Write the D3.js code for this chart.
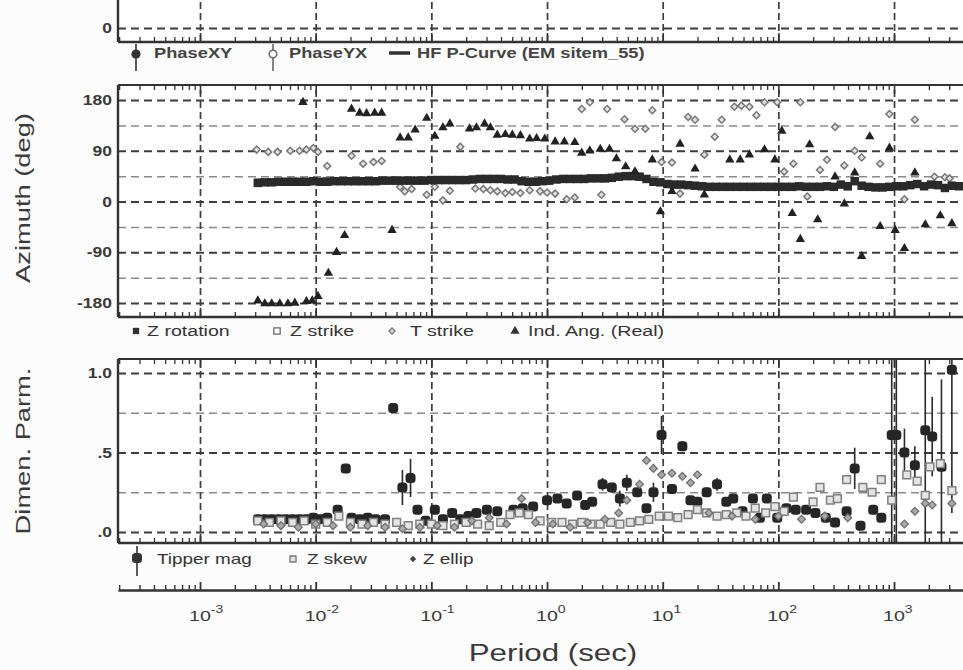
<!DOCTYPE html>
<html>
<head>
<meta charset="utf-8">
<script src="https://cdn.jsdelivr.net/npm/d3@7"></script>
<style>
  html, body { margin: 0; padding: 0; background: #fcfcfc; }
  svg { display: block; }
  text { font-family: "Liberation Sans", Arial, Helvetica, sans-serif; }
</style>
</head>
<body>
<svg id="chart" width="963" height="670"></svg>
<script>
// ---------------- data ----------------
// decades labelled on the period axis (log10 of seconds)
const decades = [-3, -2, -1, 0, 1, 2, 3];
const periodExpLabels = ["-3", "-2", "-1", "0", "1", "2", "3"];

const azTicks = [180, 90, 0, -90, -180];
const azTickLabels = ["180", "90", "0", "-90", "-180"];
const azGrid = [180, 135, 90, 45, 0, -45, -90, -135, -180];

const dimTicks = [1.0, 0.5, 0.0];
const dimTickLabels = ["1.0", ".5", ".0"];
const dimGrid = [1.0, 0.75, 0.5, 0.25, 0.0];

const phaseTicks = [0];
const phaseTickLabels = ["0"];

// Z rotation (deg) vs log10 period
const rotLogT = [
  -2.50,-2.44,-2.38,-2.32,-2.26,-2.20,-2.14,-2.08,-2.02,-1.96,
  -1.90,-1.84,-1.78,-1.72,-1.66,-1.60,-1.54,-1.48,-1.42,-1.36,
  -1.30,-1.24,-1.18,-1.12,-1.06,-1.00,-0.94,-0.88,-0.82,-0.76,
  -0.70,-0.64,-0.58,-0.52,-0.46,-0.40,-0.34,-0.28,-0.22,-0.16,
  -0.10,-0.04, 0.02, 0.08, 0.14, 0.20, 0.26, 0.32, 0.38, 0.44,
   0.50, 0.56, 0.62, 0.68, 0.74, 0.80, 0.86, 0.92, 0.98, 1.04,
   1.10, 1.16, 1.22, 1.28, 1.34, 1.40, 1.46, 1.52, 1.58, 1.64,
   1.70, 1.76, 1.82, 1.88, 1.94, 2.00, 2.06, 2.12, 2.18, 2.24,
   2.30, 2.36, 2.42, 2.48, 2.54, 2.60, 2.66, 2.72, 2.78, 2.84,
   2.90, 2.96, 3.02, 3.08, 3.14, 3.20, 3.26, 3.32, 3.38, 3.44,
   3.50, 3.56];
const rotAz = [
  33,34,34,35,35,35,35,35,36,35,
  35,36,36,36,36,36,36,36,37,37,
  37,37,37,37,37,38,38,38,38,38,
  38,39,40,40,40,40,39,39,36,35,
  35,36,37,39,40,40,40,40,41,41,
  41,42,44,45,45,44,40,35,34,31,
  30,30,29,28,27,26,26,26,26,26,
  26,26,26,26,26,26,26,26,27,26,
  26,26,27,26,30,27,36,28,26,25,
  25,26,27,27,29,31,27,30,29,24,
  28,27];

// Z strike (deg)
const zsLogT = [-2.50,-2.20,-1.90,-1.60,-1.30,-1.00,-0.70,-0.40,-0.10,0.20,0.50,0.80,1.10,1.40,1.70,2.00,2.30,2.60,2.90,3.20,3.50];
const zsAz   = [   34,   35,   36,   36,   37,   38,   38,   40,   35,  40,  41,  44,  30,  26,  26,  26,  26,  27,  25,  31,  28];

// T strike (deg)
const tsLogT = [
  -2.51,-2.41,-2.33,-2.22,-2.14,-2.08,-2.02,-1.98,-1.90,-1.69,
  -1.59,-1.50,-1.43,-1.27,-1.23,-1.17,-1.04,-0.97,-0.90,-0.84,
  -0.75,-0.62,-0.55,-0.49,-0.43,-0.36,-0.30,-0.23,-0.15,-0.06,
   0.00, 0.07, 0.17, 0.24, 0.30, 0.37, 0.47, 0.52, 0.67, 0.76,
   0.85, 0.91, 0.99, 1.08, 1.15, 1.22, 1.28, 1.36, 1.45, 1.51,
   1.62, 1.68, 1.75, 1.81, 1.88, 1.99, 2.05, 2.13, 2.19, 2.25,
   2.36, 2.42, 2.49, 2.57, 2.66, 2.72, 2.88, 2.96, 3.09, 3.18,
   3.35, 3.44, 3.48];
const tsAz = [
   92, 88, 88, 90, 90, 92, 95, 88, 63, 81,
   67, 70, 72, 26, 18, 22, 12, 26,  2, 19,
   97, 23, 22, 20, 18, 15, 17, 15, 20, 18,
   16, 14,  4,  7,164,176, 12,164,146,129,
  129,162, 70, 69, 14,150,145, 83,115,145,
  168,170,168,153,176,176, 53, 67,176,  9,
   56, 74,132, 64, 90, 78, 67,155,  4,145,
   44, 43, 41];

// Induction angle, real (deg)
const iaLogT = [
  -2.50,-2.44,-2.38,-2.31,-2.24,-2.18,-2.11,-2.08,-2.03,-1.98,
  -1.89,-1.82,-1.75,-1.69,-1.62,-1.56,-1.49,-1.43,-1.34,-1.27,
  -1.20,-1.14,-1.04,-0.97,-0.90,-0.84,-0.67,-0.61,-0.54,-0.49,
  -0.43,-0.36,-0.30,-0.23,-0.15,-0.09,-0.02, 0.07, 0.15, 0.24,
   0.30, 0.37, 0.46, 0.54, 0.60, 0.68, 0.76, 0.91, 0.98, 1.08,
   1.15, 1.28, 1.36, 1.58, 1.67, 1.75, 1.88, 1.97, 2.03, 2.12,
   2.19, 2.27, 2.34, 2.49, 2.57, 2.66, 2.72, 2.79, 2.88, 2.96,
   3.01, 3.09, 3.18, 3.27, 3.40, 3.50];
const iaAz = [
  -176,-181,-181,-181,-181,-180, 176,-177,-176,-168,
  -127, -90, -60, 164, 157, 156, 157, 157, -51, 113,
   113, 127, 148, 116, 131, 138, 129, 131, 138, 131,
   118, 119, 118, 117, 111, 112, 111, 106, 106, 105,
    86,  90,  93,  93,  76,  62,  53,  74, -18,  18,
   102,  58,  12,  74,  74,  83,  92,  74, 125, -21,
   -67, 101, -32,  44,  -4,  51, -97, 115, -44,  95,
   -51, -83,  51, -41, -25, -39];

// Tipper magnitude with error half-widths
const tipLogT = [
  -2.50,-2.44,-2.38,-2.32,-2.26,-2.20,-2.14,-2.08,-2.02,-1.96,
  -1.90,-1.81,-1.74,-1.69,-1.62,-1.55,-1.48,-1.40,-1.33,-1.25,
  -1.18,-1.12,-1.05,-0.97,-0.90,-0.82,-0.75,-0.68,-0.61,-0.52,
  -0.43,-0.29,-0.21,-0.12, 0.00, 0.09, 0.17, 0.26, 0.33, 0.39,
   0.48, 0.56, 0.63, 0.69, 0.78, 0.86, 0.92, 0.99, 1.08, 1.17,
   1.24, 1.30, 1.38, 1.47, 1.55, 1.61, 1.69, 1.78, 1.84, 1.90,
   1.99, 2.07, 2.15, 2.24, 2.32, 2.41, 2.49, 2.59, 2.66, 2.71,
   2.82, 2.89, 2.98, 3.02, 3.09, 3.18, 3.27, 3.33, 3.41, 3.50];
const tipMag = [
  .08,.08,.08,.08,.08,.08,.08,.08,.09,.08,
  .09,.14,.40,.09,.08,.09,.08,.08,.78,.28,
  .34,.14,.07,.14,.08,.12,.08,.10,.12,.14,
  .13,.14,.15,.16,.20,.21,.18,.23,.17,.19,
  .30,.28,.21,.31,.25,.15,.25,.61,.27,.54,
  .20,.19,.25,.30,.19,.21,.13,.21,.09,.21,
  .09,.15,.14,.14,.12,.09,.06,.13,.40,.04,
  .14,.09,.61,.61,.50,.42,.64,.60,.41,1.02];
const tipErr = [
  0,0,0,0,0,0,0,0,0,0,
  0,0,0,0,0,0,0,0,0,.11,
  .12,0,0,0,0,0,0,0,0,0,
  0,0,0,0,0,0,0,0,0,0,
  .04,.03,.05,.05,0,0,.06,.12,0,.03,
  0,0,.03,.04,0,0,0,0,0,0,
  0,0,0,0,0,0,0,0,.13,0,
  0,0,.9,.9,.15,.12,.9,.25,.55,.9];

// Z skew
const skewLogT = [
  -2.50,-2.40,-2.30,-2.20,-2.10,-2.00,-1.90,-1.80,-1.70,-1.60,
  -1.50,-1.40,-1.30,-1.20,-1.10,-1.00,-0.90,-0.80,-0.70,-0.60,
  -0.50,-0.40,-0.32,-0.24,-0.16,-0.06, 0.04, 0.13, 0.22, 0.30,
   0.38, 0.46, 0.55, 0.63, 0.72, 0.80, 0.88, 0.97, 1.05, 1.13,
   1.22, 1.30, 1.38, 1.47, 1.55, 1.64, 1.72, 1.80, 1.89, 1.97,
   2.05, 2.13, 2.30, 2.36, 2.45, 2.51, 2.59, 2.73, 2.81, 2.89,
   2.98, 3.11, 3.20, 3.27, 3.31, 3.40, 3.50];
const skewVal = [
  .07,.06,.07,.06,.07,.05,.06,.10,.06,.05,
  .06,.05,.06,.04,.05,.05,.04,.05,.06,.05,
  .04,.06,.11,.12,.11,.07,.06,.06,.05,.06,
  .05,.05,.06,.05,.06,.07,.08,.10,.10,.09,
  .11,.14,.12,.10,.11,.12,.10,.15,.12,.16,
  .13,.22,.19,.28,.20,.21,.33,.28,.25,.33,
  .20,.36,.32,.23,.41,.43,.26];

// Z ellipticity
const ellLogT = [
  -2.45,-2.30,-2.15,-2.00,-1.85,-1.70,-1.55,-1.40,-1.25,-1.10,
  -0.95,-0.80,-0.65,-0.50,-0.35,-0.22,-0.10, 0.05, 0.20, 0.35,
   0.50, 0.62, 0.69, 0.80, 0.86, 0.92, 0.99, 1.08, 1.17, 1.24,
   1.30, 1.40, 1.60, 1.80, 2.00, 2.20, 2.40, 2.60, 3.09, 3.18,
   3.27, 3.33, 3.50];
const ellVal = [
  .05,.04,.03,.05,.04,.03,.04,.03,.02,.03,
  .04,.03,.07,.09,.05,.21,.06,.05,.03,.06,
  .08,.12,.20,.30,.45,.40,.36,.37,.35,.31,
  .36,.12,.10,.08,.10,.08,.10,.09,.05,.13,
  .18,.17,.18];

// ---------------- layout ----------------
const svg = d3.select("#chart");
const X0 = 118, X1 = 975;
const x = d3.scaleLog().domain([Math.pow(10, -3.709), Math.pow(10, 3.70)]).range([X0, X1]);
const X = lp => x(Math.pow(10, lp));

const decadeVals = decades.map(d => Math.pow(10, d));
const minorVals = [];
for (let d = -4; d <= 3; d++) {
  for (let k = 2; k <= 9; k++) {
    const v = k * Math.pow(10, d);
    if (v > x.domain()[0] && v < x.domain()[1]) minorVals.push(v);
  }
}

const INK = "#333";
const GRID = "#3d3d3d";

// text with a horizontal stretch, anchored at (tx, ty)
function stext(g, tx, ty, str, o = {}) {
  const size = o.size || 14, sx = o.sx || 1.3;
  const rot = o.rotate ? ` rotate(${o.rotate})` : "";
  return g.append("text")
    .attr("transform", `translate(${tx},${ty})${rot} scale(${sx},1)`)
    .attr("font-size", size)
    .attr("font-weight", o.weight || "normal")
    .attr("text-anchor", o.anchor || "start")
    .attr("fill", o.fill || INK)
    .text(str);
}

function styleGrid(sel, color, width, dash) {
  sel.select(".domain").remove();
  sel.selectAll(".tick text").remove();
  sel.selectAll(".tick line")
    .attr("stroke", color).attr("stroke-width", width).attr("stroke-dasharray", dash);
}

function styleTicks(sel, width) {
  sel.select(".domain").remove();
  sel.selectAll(".tick text").remove();
  sel.selectAll(".tick line").attr("stroke", INK).attr("stroke-width", width);
}

// one panel: background, grid, minor ticks, frame, y tick labels
function panel(id, top, bottom, y, gridVals, majorGrid, ticks, tickLabels) {
  const g = svg.append("g").attr("id", id);
  const h = bottom - top;
  g.append("clipPath").attr("id", "clip-" + id)
    .append("rect").attr("x", X0).attr("y", top).attr("width", X1 - X0).attr("height", h);
  g.append("rect").attr("x", X0).attr("y", top).attr("width", X1 - X0).attr("height", h)
    .attr("fill", "#ffffff");

  // horizontal grid
  const hMajor = g.append("g").attr("transform", `translate(${X0},0)`)
    .call(d3.axisLeft(y).tickValues(gridVals.filter(v => majorGrid.includes(v))).tickSize(-(X1 - X0)).tickSizeOuter(0));
  styleGrid(hMajor, GRID, 1.8, "8,5");
  const hMinor = g.append("g").attr("transform", `translate(${X0},0)`)
    .call(d3.axisLeft(y).tickValues(gridVals.filter(v => !majorGrid.includes(v))).tickSize(-(X1 - X0)).tickSizeOuter(0));
  styleGrid(hMinor, "#8a8a8a", 1.5, "8,5");

  // vertical decade grid
  const vg = g.append("g").attr("transform", `translate(0,${bottom})`)
    .call(d3.axisBottom(x).tickValues(decadeVals).tickSize(-h).tickSizeOuter(0));
  styleGrid(vg, GRID, 1.7, "7,4");

  // log ticks along the inside of the bottom and top edges
  const bMin = g.append("g").attr("transform", `translate(0,${bottom})`)
    .call(d3.axisTop(x).tickValues(minorVals).tickSize(5).tickSizeOuter(0));
  styleTicks(bMin, 1.3);
  const bMaj = g.append("g").attr("transform", `translate(0,${bottom})`)
    .call(d3.axisTop(x).tickValues(decadeVals).tickSize(9).tickSizeOuter(0));
  styleTicks(bMaj, 1.6);
  const tMin = g.append("g").attr("transform", `translate(0,${top})`)
    .call(d3.axisBottom(x).tickValues(minorVals).tickSize(5).tickSizeOuter(0));
  styleTicks(tMin, 1.3);
  const tMaj = g.append("g").attr("transform", `translate(0,${top})`)
    .call(d3.axisBottom(x).tickValues(decadeVals).tickSize(9).tickSizeOuter(0));
  styleTicks(tMaj, 1.6);

  // frame
  g.append("line").attr("x1", X0).attr("x2", X1).attr("y1", top).attr("y2", top)
    .attr("stroke", INK).attr("stroke-width", 2.2);
  g.append("line").attr("x1", X0).attr("x2", X1).attr("y1", bottom).attr("y2", bottom)
    .attr("stroke", INK).attr("stroke-width", 2.4);
  g.append("line").attr("x1", X0).attr("x2", X0).attr("y1", top).attr("y2", bottom)
    .attr("stroke", INK).attr("stroke-width", 2.4);

  // y tick labels
  ticks.forEach((v, i) => {
    stext(g, 112, y(v) + 5, tickLabels[i], { size: 14, sx: 1.25, weight: "bold", anchor: "end", fill: "#3a3a3a" });
  });

  const data = g.append("g").attr("clip-path", `url(#clip-${id})`);
  return data;
}

// ---------------- top (phase) panel, lower edge only ----------------
const yPh = d3.scaleLinear().domain([0, 90]).range([28, -110]);
panel("phase", -40, 42, yPh, [0], [0], phaseTicks, phaseTickLabels);

// legend for phase panel
const lg1 = svg.append("g");
lg1.append("line").attr("x1", 136).attr("x2", 136).attr("y1", 44).attr("y2", 71).attr("stroke", "#333").attr("stroke-width", 1.6);
lg1.append("circle").attr("cx", 136).attr("cy", 54).attr("r", 4.6).attr("fill", "#333");
stext(lg1, 154, 58, "PhaseXY", { size: 15, sx: 1.22, weight: "bold", fill: "#444" });
lg1.append("line").attr("x1", 273).attr("x2", 273).attr("y1", 44).attr("y2", 71).attr("stroke", "#666").attr("stroke-width", 1.6);
lg1.append("circle").attr("cx", 273).attr("cy", 54).attr("r", 3.8).attr("fill", "#fff").attr("stroke", "#666").attr("stroke-width", 1.5);
stext(lg1, 289, 58, "PhaseYX", { size: 15, sx: 1.22, weight: "bold", fill: "#444" });
lg1.append("line").attr("x1", 389).attr("x2", 410).attr("y1", 53).attr("y2", 53).attr("stroke", "#333").attr("stroke-width", 3.5);
stext(lg1, 417, 58, "HF P-Curve (EM sitem_55)", { size: 15, sx: 1.22, weight: "bold", fill: "#444" });

// ---------------- azimuth panel ----------------
const yAz = d3.scaleLinear().domain([-180, 180]).range([303, 100]);
const azData = panel("az", 85, 317, yAz, azGrid, azTicks, azTicks, azTickLabels);

const sqSym = d3.symbol().type(d3.symbolSquare);
const triSym = d3.symbol().type(d3.symbolTriangle);
// diamond = square turned by 45 degrees
const diamond = s => d3.symbol().type(d3.symbolSquare).size(s)();

azData.selectAll(".zs").data(zsLogT).join("path").attr("class", "zs")
  .attr("d", sqSym.size(44)())
  .attr("transform", (d, i) => `translate(${X(d)},${yAz(zsAz[i])})`)
  .attr("fill", "#fff").attr("stroke", "#777").attr("stroke-width", 1.2);

azData.selectAll(".ts").data(tsLogT).join("path").attr("class", "ts")
  .attr("d", diamond(24))
  .attr("transform", (d, i) => `translate(${X(d)},${yAz(tsAz[i])}) rotate(45)`)
  .attr("fill", "#e2e2e2").attr("stroke", "#777").attr("stroke-width", 1.5);

azData.selectAll(".rot").data(rotLogT).join("path").attr("class", "rot")
  .attr("d", sqSym.size(72)())
  .attr("transform", (d, i) => `translate(${X(d)},${yAz(rotAz[i])})`)
  .attr("fill", "#2a2a2a");

azData.selectAll(".ia").data(iaLogT).join("path").attr("class", "ia")
  .attr("d", triSym.size(38)())
  .attr("transform", (d, i) => `translate(${X(d)},${yAz(iaAz[i])})`)
  .attr("fill", "#222");

// legend for azimuth panel
const lg2 = svg.append("g");
lg2.append("path").attr("d", sqSym.size(40)()).attr("transform", "translate(136,331)").attr("fill", "#333");
stext(lg2, 147, 336, "Z rotation", { size: 14, sx: 1.4 });
lg2.append("path").attr("d", sqSym.size(40)()).attr("transform", "translate(277,331)").attr("fill", "#fff").attr("stroke", "#666").attr("stroke-width", 1.3);
stext(lg2, 290, 336, "Z strike", { size: 14, sx: 1.4 });
lg2.append("path").attr("d", diamond(18)).attr("transform", "translate(392,331) rotate(45)").attr("fill", "#e2e2e2").attr("stroke", "#777").attr("stroke-width", 1.3);
stext(lg2, 410, 336, "T strike", { size: 14, sx: 1.4 });
lg2.append("path").attr("d", triSym.size(36)()).attr("transform", "translate(515,331)").attr("fill", "#333");
stext(lg2, 528, 336, "Ind. Ang. (Real)", { size: 14, sx: 1.4 });

// ---------------- dimensionality panel ----------------
const yDim = d3.scaleLinear().domain([0, 1]).range([532, 373]);
const dimData = panel("dim", 359, 543, yDim, dimGrid, dimTicks, dimTicks, dimTickLabels);

const tipIdx = tipLogT.map((d, i) => i);
dimData.selectAll(".terr").data(tipIdx.filter(i => tipErr[i] > 0)).join("line").attr("class", "terr")
  .attr("x1", i => X(tipLogT[i])).attr("x2", i => X(tipLogT[i]))
  .attr("y1", i => yDim(tipMag[i] - tipErr[i])).attr("y2", i => yDim(tipMag[i] + tipErr[i]))
  .attr("stroke", "#2a2a2a").attr("stroke-width", 1.6);

dimData.selectAll(".tip").data(tipIdx).join("rect").attr("class", "tip")
  .attr("x", i => X(tipLogT[i]) - 5).attr("y", i => yDim(tipMag[i]) - 5)
  .attr("width", 10).attr("height", 10).attr("rx", 3.5)
  .attr("fill", "#262626");

dimData.selectAll(".skew").data(skewLogT).join("path").attr("class", "skew")
  .attr("d", sqSym.size(60)())
  .attr("transform", (d, i) => `translate(${X(d)},${yDim(skewVal[i])})`)
  .attr("fill", "#e4e4e4").attr("stroke", "#808080").attr("stroke-width", 1.5);

dimData.selectAll(".ell").data(ellLogT).join("path").attr("class", "ell")
  .attr("d", diamond(30))
  .attr("transform", (d, i) => `translate(${X(d)},${yDim(ellVal[i])}) rotate(45)`)
  .attr("fill", "#aaaaaa").attr("stroke", "#707070").attr("stroke-width", 1.3);

// legend for dimensionality panel
const lg3 = svg.append("g");
lg3.append("line").attr("x1", 137).attr("x2", 137).attr("y1", 546).attr("y2", 576).attr("stroke", "#333").attr("stroke-width", 1.6);
lg3.append("rect").attr("x", 132).attr("y", 553).attr("width", 10).attr("height", 10).attr("rx", 3.5).attr("fill", "#333");
stext(lg3, 157, 564, "Tipper mag", { size: 14, sx: 1.35 });
lg3.append("path").attr("d", sqSym.size(36)()).attr("transform", "translate(293,559)").attr("fill", "#e4e4e4").attr("stroke", "#777").attr("stroke-width", 1.3);
stext(lg3, 307, 564, "Z skew", { size: 14, sx: 1.35 });
lg3.append("path").attr("d", diamond(20)).attr("transform", "translate(413,559) rotate(45)").attr("fill", "#444");
stext(lg3, 423, 564, "Z ellip", { size: 14, sx: 1.35 });

// ---------------- period axis ----------------
const AXY = 590;
const axMin = svg.append("g").attr("transform", `translate(0,${AXY})`)
  .call(d3.axisTop(x).tickValues(minorVals).tickSize(5).tickSizeOuter(0));
axMin.select(".domain").attr("stroke", INK).attr("stroke-width", 2.6);
axMin.selectAll(".tick text").remove();
axMin.selectAll(".tick line").attr("stroke", INK).attr("stroke-width", 1.4);
const axMaj = svg.append("g").attr("transform", `translate(0,${AXY})`)
  .call(d3.axisTop(x).tickValues(decadeVals).tickSize(8).tickSizeOuter(0));
axMaj.select(".domain").remove();
axMaj.selectAll(".tick text").remove();
axMaj.selectAll(".tick line").attr("stroke", INK).attr("stroke-width", 1.8);

decadeVals.forEach((v, i) => {
  const tx = x(v) - 11;
  const t = stext(svg, tx, 621, "10", { size: 14, sx: 1.4, fill: "#3a3a3a" });
  t.append("tspan").attr("font-size", 10).attr("dy", -8).text(periodExpLabels[i]);
});

stext(svg, 553, 661, "Period (sec)", { size: 23, sx: 1.36, anchor: "middle", fill: "#3a3a3a" });

// ---------------- y titles ----------------
stext(svg, 30, 198, "Azimuth (deg)", { size: 21, sx: 1.3, anchor: "middle", rotate: -90, fill: "#3a3a3a" });
stext(svg, 30, 451, "Dimen. Parm.", { size: 21, sx: 1.3, anchor: "middle", rotate: -90, fill: "#3a3a3a" });
</script>
</body>
</html>
